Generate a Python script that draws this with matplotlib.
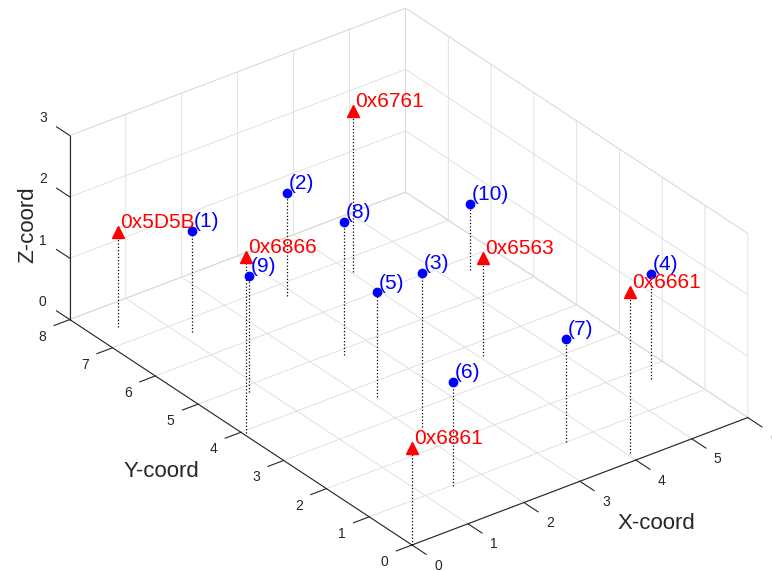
import numpy as np
import matplotlib
matplotlib.use('Agg')
import matplotlib.pyplot as plt
from matplotlib.ticker import NullFormatter
from mpl_toolkits.mplot3d import proj3d

plt.rcParams['font.family'] = ['Liberation Sans', 'DejaVu Sans']

# blue points (1)..(10)
pt_x = [1.16, 2.86, 2.15, 5.57, 2.15, 1.48, 3.52, 2.50, 0.79, 5.38]
pt_y = [6.67, 6.67, 2.58, 1.71, 3.64, 0.98, 1.01, 4.87, 4.85, 5.69]
pt_z = [1.66, 1.68, 2.50, 1.70, 1.70, 1.70, 1.68, 2.17, 1.88, 1.08]
pt_labels = ['(%d)' % i for i in range(1, 11)]

# red anchors
an_labels = ['0x5D5B', '0x6866', '0x6861', '0x6761', '0x6563', '0x6661']
an_x = [0.41, 0.05, 0.00, 4.03, 4.05, 4.06]
an_y = [7.41, 3.95, 0.00, 6.64, 3.64, 0.21]
an_z = [1.55, 2.87, 1.58, 2.63, 1.60, 2.63]

x_ticks = list(range(0, 7))
y_ticks = list(range(0, 9))
z_ticks = list(range(0, 4))

W, H = 772, 571
fig = plt.figure(figsize=(W / 100, H / 100), dpi=100)
ax = fig.add_axes([0, -0.176, 1, 1.352], projection='3d')
ax.set_proj_type('ortho')
ax.view_init(elev=30, azim=-127.2)
box = (421.6, 566.1, 212.5)
ax.set_box_aspect(box, zoom=1)

ax.set_xlim(0, 6)
ax.set_ylim(0, 8)
ax.set_zlim(0, 3)
ax.set_xticks(x_ticks)
ax.set_yticks(y_ticks)
ax.set_zticks(z_ticks)

grid_col = '#dcdcdc'
axis_col = '#262626'
for axis in (ax.xaxis, ax.yaxis, ax.zaxis):
    axis.set_pane_color((1, 1, 1, 1))
    axis.pane.set_edgecolor(grid_col)
    axis.pane.set_linewidth(0.6)
    axis._axinfo['grid'].update(color=grid_col, linewidth=0.6)
    axis._axinfo['tick'].update(inward_factor=0.0, outward_factor=0.0)
    axis.line.set_color(axis_col)
    axis.line.set_linewidth(0.8)
    axis.set_major_formatter(NullFormatter())

# tick marks, MATLAB style (x ticks along -y, y ticks along -x, z ticks along +y)
for t in x_ticks:
    ax.plot([t, t], [0, -0.33], [0, 0], color=axis_col, lw=0.8, clip_on=False)
for t in y_ticks:
    ax.plot([0, -0.28], [t, t], [0, 0], color=axis_col, lw=0.8, clip_on=False)
for t in z_ticks:
    ax.plot([0, 0], [8, 8.31], [t, t], color=axis_col, lw=0.8, clip_on=False)

# stems
for x, y, z in zip(pt_x + an_x, pt_y + an_y, pt_z + an_z):
    ax.plot([x, x], [y, y], [0, z], color='k', ls=':', lw=0.9, clip_on=False)

ax.plot(pt_x, pt_y, pt_z, ls='none', marker='o', ms=6, color='#0000ff',
        clip_on=False)
ax.plot(an_x, an_y, an_z, ls='none', marker='^', ms=8, color='#ff0000',
        clip_on=False)


def to_px(x, y, z):
    xs, ys, _ = proj3d.proj_transform(x, y, z, ax.get_proj())
    return ax.transData.transform((xs, ys))


# fit the box to the reference layout
fig.canvas.draw()
left = to_px(0, 8, 0)[0]
right = to_px(6, 0, 0)[0]
k = (748 - 70) / (right - left)
ax.set_box_aspect(box, zoom=k)
fig.canvas.draw()
o = to_px(0, 0, 0)
dx = 412 - o[0]
dy = (H - 545) - o[1]
pos = ax.get_position(original=True)
ax.set_position([pos.x0 + dx / W, pos.y0 + dy / H, pos.width, pos.height])


def put(x, y, z, s, off, **kw):
    xs, ys, _ = proj3d.proj_transform(x, y, z, ax.get_proj())
    ax.annotate(s, xy=(xs, ys), xytext=off, textcoords='offset points',
                annotation_clip=False, zorder=10, **kw)


for t in x_ticks:
    put(t, 0, 0, str(t), (18.7, -14.8), fontsize=10, color=axis_col,
        ha='center', va='center')
for t in y_ticks:
    put(0, t, 0, str(t), (-19.8, -12.2), fontsize=10, color=axis_col,
        ha='center', va='center')
for t in z_ticks:
    put(0, 8, t, str(t), (-19.4, 12.6), fontsize=10, color=axis_col,
        ha='center', va='center')

put(3, 0, 0, 'X-coord', (55.4, -30.2), fontsize=16, color=axis_col,
    ha='center', va='center')
put(0, 4, 0, 'Y-coord', (-56.9, -28.1), fontsize=16, color=axis_col,
    ha='center', va='center')
put(0, 8, 1.5, 'Z-coord', (-30.2, 2.2), fontsize=16, color=axis_col,
    ha='center', va='center', rotation=90)

for x, y, z, s in zip(pt_x, pt_y, pt_z, pt_labels):
    put(x, y, z, s, (1.4, 6.8), fontsize=15, color='#0000ff',
        ha='left', va='center')
for x, y, z, s in zip(an_x, an_y, an_z, an_labels):
    put(x, y, z, s, (1.4, 6.8), fontsize=15, color='#ff0000',
        ha='left', va='center')

fig.savefig('out.png', dpi=100)
